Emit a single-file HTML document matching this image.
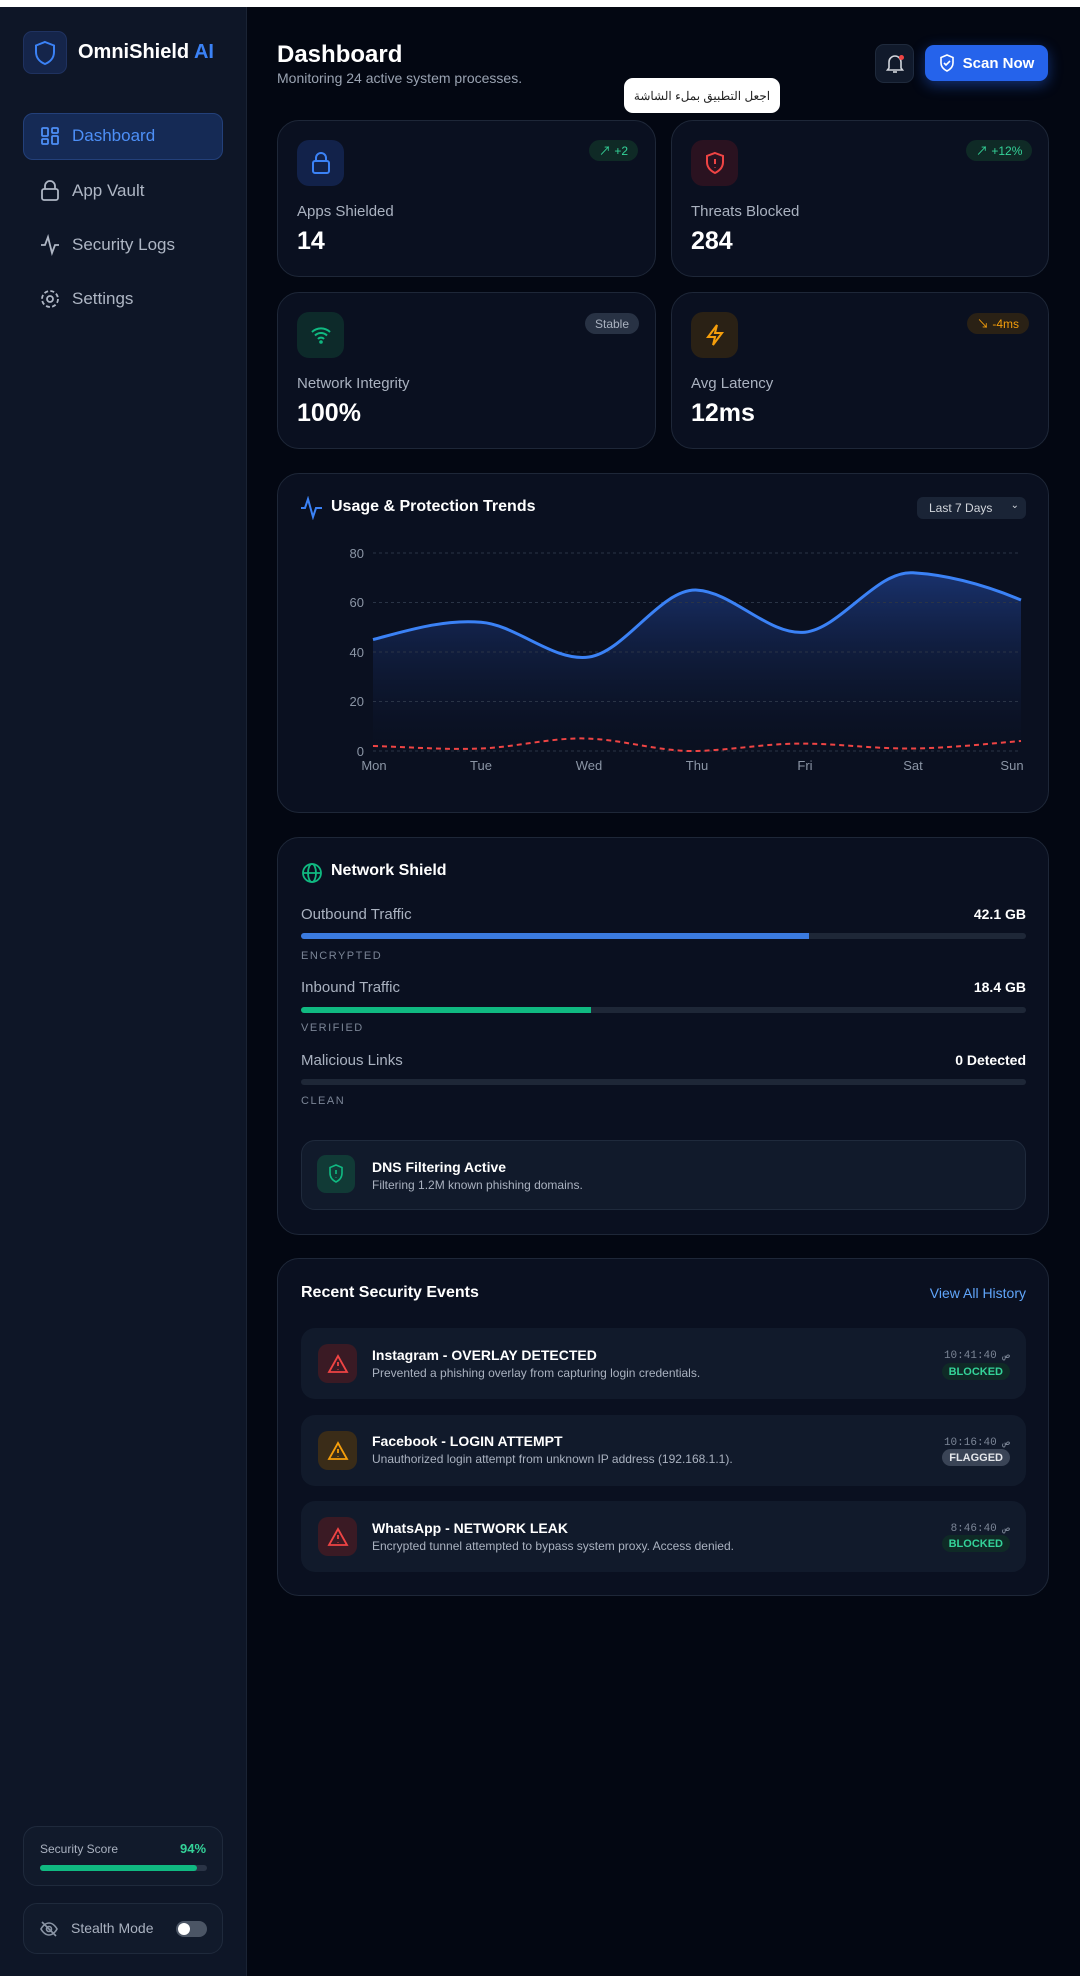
<!DOCTYPE html>
<html><head><meta charset="utf-8"><style>
*{box-sizing:border-box;margin:0;padding:0}
body{width:1080px;height:1976px;background:#030712;font-family:"Liberation Sans","Noto Sans CJK SC",sans-serif;color:#e5e7eb;position:relative;overflow:hidden}
.a{position:absolute}
.side{left:0;top:7px;width:247px;height:1969px;background:#0e1627;border-right:1px solid #1a2334}
.card{position:absolute;background:#0a1020;border:1px solid #1e2738;border-radius:22px}
.nav{position:absolute;left:40px;font-size:17px;color:#aeb6c4;display:flex;align-items:center;gap:12px}
.lbl{font-size:15px;color:#aab2c0}
.val{font-size:25px;font-weight:bold;color:#fff}
.ib{position:absolute;width:47px;height:46px;border-radius:12px;display:flex;align-items:center;justify-content:center}
.badge{position:absolute;height:21px;border-radius:11px;font-size:12px;display:flex;align-items:center;padding:0 10px}
.bar{position:absolute;left:301px;width:725px;height:6px;border-radius:3px;background:#1e2737;overflow:hidden}
.cap{position:absolute;left:301px;font-size:11px;letter-spacing:1.5px;color:#7b8596}
.row{position:absolute;left:301px;width:725px;height:71px;background:#111a2b;border-radius:14px}
</style></head><body>
<div class="a" style="left:0;top:0;width:1080px;height:7px;background:#fff"></div>
<div class="a side"></div>
<div class="a" style="left:23px;top:31px;width:44px;height:43px;border-radius:9px;background:#15254a;border:1px solid #1f3260;display:flex;align-items:center;justify-content:center">
<svg width="22" height="26" viewBox="0 0 22 26"><path d="M11 2 L20 5.5 V12 C20 18 16 22 11 24 C6 22 2 18 2 12 V5.5 Z" fill="none" stroke="#3b82f6" stroke-width="2"/></svg></div>
<div class="a" style="left:78px;top:41px;font-size:20px;font-weight:bold;color:#fff">OmniShield <span style="color:#3b82f6">AI</span></div>
<div class="a" style="left:23px;top:113px;width:200px;height:47px;border-radius:10px;background:#152a55;border:1px solid #23407a"></div>
<div class="nav" style="top:126px;color:#4d8ff7"><svg width="20" height="20" viewBox="0 0 20 20" fill="none" stroke="#4d8ff7" stroke-width="1.8"><rect x="2" y="2" width="6" height="8" rx="1"/><rect x="12" y="2" width="6" height="5" rx="1"/><rect x="12" y="10" width="6" height="8" rx="1"/><rect x="2" y="13" width="6" height="5" rx="1"/></svg>Dashboard</div>
<div class="nav" style="top:180px"><svg width="20" height="22" viewBox="0 0 20 22" fill="none" stroke="#aeb6c4" stroke-width="1.8"><rect x="2" y="9" width="16" height="11" rx="2"/><path d="M5 9V6a5 5 0 0110 0v3"/></svg>App Vault</div>
<div class="nav" style="top:234px"><svg width="20" height="22" viewBox="0 0 20 22" fill="none" stroke="#aeb6c4" stroke-width="1.8"><path d="M1 11h4l3-8 4 16 3-8h4"/></svg>Security Logs</div>
<div class="nav" style="top:288px"><svg width="20" height="22" viewBox="0 0 20 22" fill="none" stroke="#aeb6c4" stroke-width="1.8"><circle cx="10" cy="11" r="3"/><circle cx="10" cy="11" r="8" stroke-dasharray="4 2.3"/></svg>Settings</div>
<div class="a" style="left:23px;top:1826px;width:200px;height:60px;border-radius:14px;background:#111a2b;border:1px solid #1f2a3c"></div>
<div class="a" style="left:40px;top:1842px;font-size:12px;color:#aab2c0">Security Score</div>
<div class="a" style="left:180px;top:1841px;font-size:13px;font-weight:bold;color:#34d399">94%</div>
<div class="a" style="left:40px;top:1865px;width:167px;height:6px;border-radius:3px;background:#2a3446"><div style="width:94%;height:6px;border-radius:3px;background:#10b981"></div></div>
<div class="a" style="left:23px;top:1903px;width:200px;height:51px;border-radius:14px;background:#111a2b;border:1px solid #1f2a3c"></div>
<svg class="a" style="left:39px;top:1920px" width="20" height="18" viewBox="0 0 20 18" fill="none" stroke="#8b95a5" stroke-width="1.6"><path d="M2 9s3-6 8-6 8 6 8 6-3 6-8 6-8-6-8-6z"/><circle cx="10" cy="9" r="2.5"/><path d="M3 2l14 14"/></svg>
<div class="a" style="left:71px;top:1920px;font-size:14px;color:#aab2c0">Stealth Mode</div>
<div class="a" style="left:176px;top:1921px;width:31px;height:16px;border-radius:8px;background:#4b5565"><div style="position:absolute;left:2px;top:2px;width:12px;height:12px;border-radius:6px;background:#fff"></div></div>

<div class="a" style="left:277px;top:41px;font-size:24px;font-weight:bold;color:#fff">Dashboard</div>
<div class="a" style="left:277px;top:70px;font-size:14px;color:#9aa3b2">Monitoring 24 active system processes.</div>
<div class="a" style="left:875px;top:44px;width:39px;height:39px;border-radius:9px;background:#111a2b;border:1px solid #1f2a3c;display:flex;align-items:center;justify-content:center"><svg width="18" height="20" viewBox="0 0 18 20" fill="none" stroke="#d1d5db" stroke-width="1.6"><path d="M3 14V8a6 6 0 0112 0v6l1.5 2h-15z"/><path d="M7 18h4"/></svg><div style="position:absolute;left:23px;top:10px;width:5px;height:5px;border-radius:3px;background:#ef4444"></div></div>
<div class="a" style="left:925px;top:45px;width:123px;height:36px;border-radius:9px;background:#2563eb;box-shadow:0 4px 14px rgba(37,99,235,.45);display:flex;align-items:center;justify-content:center;gap:8px;font-size:15px;font-weight:bold;color:#fff"><svg width="16" height="18" viewBox="0 0 16 18" fill="none" stroke="#fff" stroke-width="1.6"><path d="M8 1l6 2.5V9c0 4-3 6.5-6 8-3-1.5-6-4-6-8V3.5z"/><path d="M5 9l2 2 4-4"/></svg>Scan Now</div>
<div class="a" style="left:624px;top:78px;width:156px;height:35px;border-radius:9px;background:#fff;color:#222;font-size:12px;display:flex;align-items:center;justify-content:center;z-index:5">اجعل التطبيق بملء الشاشة</div>

<div class="card" style="left:277px;top:120px;width:379px;height:157px"></div>
<div class="card" style="left:671px;top:120px;width:378px;height:157px"></div>
<div class="card" style="left:277px;top:292px;width:379px;height:157px"></div>
<div class="card" style="left:671px;top:292px;width:378px;height:157px"></div>
<div class="ib" style="left:297px;top:140px;background:#12224a"><svg width="20" height="24" viewBox="0 0 20 24" fill="none" stroke="#3b82f6" stroke-width="2"><rect x="2" y="10" width="16" height="12" rx="2"/><path d="M5 10V7a5 5 0 0110 0v3"/></svg></div>
<div class="ib" style="left:691px;top:140px;background:#2a1220"><svg width="20" height="24" viewBox="0 0 20 24" fill="none" stroke="#ef4444" stroke-width="2"><path d="M10 2l8 3v6c0 6-4 9-8 11-4-2-8-5-8-11V5z"/><path d="M10 8v5M10 16v.5"/></svg></div>
<div class="ib" style="left:297px;top:312px;background:#0d2a2a"><svg width="22" height="20" viewBox="0 0 22 20" fill="none" stroke="#10b981" stroke-width="2"><path d="M2 7a13 13 0 0118 0M5 10.5a8.5 8.5 0 0112 0M8 14a4 4 0 016 0"/><circle cx="11" cy="17" r=".8"/></svg></div>
<div class="ib" style="left:691px;top:312px;background:#2a2115"><svg width="20" height="24" viewBox="0 0 20 24" fill="none" stroke="#f59e0b" stroke-width="2"><path d="M12 2L3 14h7l-2 8 9-12h-7z"/></svg></div>
<div class="badge" style="left:589px;top:140px;background:#0f2a26;color:#34d399">↗ +2</div>
<div class="badge" style="left:966px;top:140px;background:#0f2a26;color:#34d399">↗ +12%</div>
<div class="badge" style="left:585px;top:313px;background:#283244;color:#aab2c0">Stable</div>
<div class="badge" style="left:967px;top:313px;background:#2a2115;color:#f59e0b">↘ -4ms</div>
<div class="a lbl" style="left:297px;top:203px">Apps Shielded</div><div class="a val" style="left:297px;top:227px">14</div>
<div class="a lbl" style="left:691px;top:203px">Threats Blocked</div><div class="a val" style="left:691px;top:227px">284</div>
<div class="a lbl" style="left:297px;top:375px">Network Integrity</div><div class="a val" style="left:297px;top:399px">100%</div>
<div class="a lbl" style="left:691px;top:375px">Avg Latency</div><div class="a val" style="left:691px;top:399px">12ms</div>

<div class="card" style="left:277px;top:473px;width:772px;height:340px"></div>
<svg class="a" style="left:300px;top:496px" width="24" height="24" viewBox="0 0 24 24" fill="none" stroke="#3b82f6" stroke-width="2"><path d="M1 12h4l3-9 5 18 3-9h6"/></svg>
<div class="a" style="left:331px;top:498px;font-size:16px;font-weight:bold;color:#fff">Usage &amp; Protection Trends</div>
<div class="a" style="left:917px;top:497px;width:109px;height:22px;border-radius:6px;background:#1a2436;font-size:12px;color:#d1d5db;padding:4px 0 0 12px">Last 7 Days<span style="position:absolute;right:7px;top:3px;font-size:10px">⌄</span></div>
<svg class="a" style="left:0;top:0" width="1080" height="800">
<defs><linearGradient id="g" x1="0" y1="0" x2="0" y2="1"><stop offset="0" stop-color="#1d3a80" stop-opacity=".8"/><stop offset="1" stop-color="#0a1020" stop-opacity=".2"/></linearGradient></defs>
<path d="M373,639.6 C409,630 445,619 481,622.3 C517,625 553,662 589,657 C625,652 661,588 697,590.1 C733,592 769,636 805,632.2 C841,628 877,570 913,572.8 C949,575 985,585 1021,600 L1021,751 L373,751Z" fill="url(#g)"/>
<g stroke="#2a3446" stroke-dasharray="3 3" stroke-width="1"><line x1="373" y1="553" x2="1021" y2="553"/><line x1="373" y1="602.5" x2="1021" y2="602.5"/><line x1="373" y1="652" x2="1021" y2="652"/><line x1="373" y1="701.5" x2="1021" y2="701.5"/><line x1="373" y1="751" x2="1021" y2="751"/></g>
<g fill="#8b95a5" font-size="13" text-anchor="end" font-family="Liberation Sans"><text x="364" y="558">80</text><text x="364" y="607">60</text><text x="364" y="657">40</text><text x="364" y="706">20</text><text x="364" y="756">0</text></g>
<g fill="#8b95a5" font-size="13" text-anchor="middle" font-family="Liberation Sans"><text x="374" y="770">Mon</text><text x="481" y="770">Tue</text><text x="589" y="770">Wed</text><text x="697" y="770">Thu</text><text x="805" y="770">Fri</text><text x="913" y="770">Sat</text><text x="1012" y="770">Sun</text></g>
<path d="M373,639.6 C409,630 445,619 481,622.3 C517,625 553,662 589,657 C625,652 661,588 697,590.1 C733,592 769,636 805,632.2 C841,628 877,570 913,572.8 C949,575 985,585 1021,600" fill="none" stroke="#3b82f6" stroke-width="3"/>
<path d="M373,746 C409,747 445,750 481,748.5 C517,747 553,737 589,738.6 C625,740 661,752 697,751 C733,750 769,743 805,743.6 C841,744 877,749 913,748.5 C949,748 985,744 1021,741" fill="none" stroke="#ef4444" stroke-width="2" stroke-dasharray="5 4"/>
</svg>

<div class="card" style="left:277px;top:837px;width:772px;height:398px"></div>
<svg class="a" style="left:301px;top:862px" width="22" height="22" viewBox="0 0 22 22" fill="none" stroke="#10b981" stroke-width="1.8"><circle cx="11" cy="11" r="9"/><ellipse cx="11" cy="11" rx="4" ry="9"/><path d="M2 11h18"/></svg>
<div class="a" style="left:331px;top:862px;font-size:16px;font-weight:bold;color:#fff">Network Shield</div>
<div class="a lbl" style="left:301px;top:906px">Outbound Traffic</div><div class="a" style="right:54px;top:906px;font-size:14px;font-weight:bold;color:#fff">42.1 GB</div>
<div class="bar" style="top:933px"><div style="width:70%;height:6px;background:#3b7be0"></div></div><div class="cap" style="top:950px">ENCRYPTED</div>
<div class="a lbl" style="left:301px;top:979px">Inbound Traffic</div><div class="a" style="right:54px;top:979px;font-size:14px;font-weight:bold;color:#fff">18.4 GB</div>
<div class="bar" style="top:1007px"><div style="width:40%;height:6px;background:#10b981"></div></div><div class="cap" style="top:1022px">VERIFIED</div>
<div class="a lbl" style="left:301px;top:1052px">Malicious Links</div><div class="a" style="right:54px;top:1052px;font-size:14px;font-weight:bold;color:#fff">0 Detected</div>
<div class="bar" style="top:1079px"></div><div class="cap" style="top:1095px">CLEAN</div>
<div class="a" style="left:301px;top:1140px;width:725px;height:70px;border-radius:14px;background:#111a2b;border:1px solid #1f2a3c"></div>
<div class="ib" style="left:317px;top:1155px;width:38px;height:38px;border-radius:9px;background:#113a36"><svg width="16" height="20" viewBox="0 0 16 20" fill="none" stroke="#10b981" stroke-width="1.6"><path d="M8 1l6 2.5V9c0 5-3 7.5-6 9-3-1.5-6-4-6-9V3.5z"/><path d="M8 6v4M8 13v.5"/></svg></div>
<div class="a" style="left:372px;top:1159px;font-size:14px;font-weight:bold;color:#fff">DNS Filtering Active</div>
<div class="a" style="left:372px;top:1178px;font-size:12px;color:#aab2c0">Filtering 1.2M known phishing domains.</div>

<div class="card" style="left:277px;top:1258px;width:772px;height:338px"></div>
<div class="a" style="left:301px;top:1284px;font-size:16px;font-weight:bold;color:#fff">Recent Security Events</div>
<div class="a" style="right:54px;top:1285px;font-size:14px;color:#60a5fa">View All History</div>

<div class="row" style="top:1328px"></div>
<div class="row" style="top:1415px"></div>
<div class="row" style="top:1501px"></div>
<div class="ib" style="left:318px;top:1344px;width:39px;height:39px;border-radius:10px;background:#3a1a24"><svg width="22" height="20" viewBox="0 0 22 20" fill="none" stroke="#ef4444" stroke-width="1.8"><path d="M11 2L20 18H2z"/><path d="M11 8v4M11 15v.5"/></svg></div>
<div class="ib" style="left:318px;top:1431px;width:39px;height:39px;border-radius:10px;background:#3a2c18"><svg width="22" height="20" viewBox="0 0 22 20" fill="none" stroke="#f59e0b" stroke-width="1.8"><path d="M11 2L20 18H2z"/><path d="M11 8v4M11 15v.5"/></svg></div>
<div class="ib" style="left:318px;top:1517px;width:39px;height:39px;border-radius:10px;background:#3a1a24"><svg width="22" height="20" viewBox="0 0 22 20" fill="none" stroke="#ef4444" stroke-width="1.8"><path d="M11 2L20 18H2z"/><path d="M11 8v4M11 15v.5"/></svg></div>
<div class="a" style="left:372px;top:1347px;font-size:14px;font-weight:bold;color:#fff">Instagram - OVERLAY DETECTED</div>
<div class="a" style="left:372px;top:1366px;font-size:12px;color:#aab2c0">Prevented a phishing overlay from capturing login credentials.</div>
<div class="a" style="left:372px;top:1433px;font-size:14px;font-weight:bold;color:#fff">Facebook - LOGIN ATTEMPT</div>
<div class="a" style="left:372px;top:1452px;font-size:12px;color:#aab2c0">Unauthorized login attempt from unknown IP address (192.168.1.1).</div>
<div class="a" style="left:372px;top:1520px;font-size:14px;font-weight:bold;color:#fff">WhatsApp - NETWORK LEAK</div>
<div class="a" style="left:372px;top:1539px;font-size:12px;color:#aab2c0">Encrypted tunnel attempted to bypass system proxy. Access denied.</div>
<div class="a" style="right:70px;top:1348px;font-size:11px;color:#7b8596;font-family:'Liberation Mono','Noto Sans CJK SC',monospace">10:41:40 ص</div>
<div class="a" style="right:70px;top:1435px;font-size:11px;color:#7b8596;font-family:'Liberation Mono','Noto Sans CJK SC',monospace">10:16:40 ص</div>
<div class="a" style="right:70px;top:1521px;font-size:11px;color:#7b8596;font-family:'Liberation Mono','Noto Sans CJK SC',monospace">8:46:40 ص</div>
<div class="badge" style="right:70px;top:1363px;height:17px;font-size:11px;font-weight:bold;background:#0f2a26;color:#34d399;padding:0 7px">BLOCKED</div>
<div class="badge" style="right:70px;top:1449px;height:17px;font-size:11px;font-weight:bold;background:#3a4456;color:#e5e7eb;padding:0 7px">FLAGGED</div>
<div class="badge" style="right:70px;top:1535px;height:17px;font-size:11px;font-weight:bold;background:#0f2a26;color:#34d399;padding:0 7px">BLOCKED</div>
</body></html>
